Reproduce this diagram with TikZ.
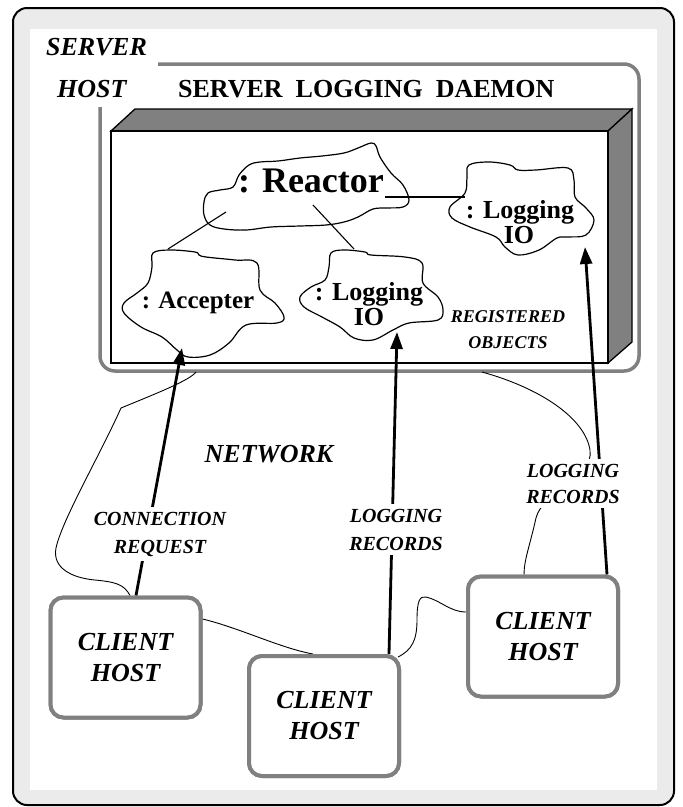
\documentclass[tikz,border=0pt]{standalone}
\usepackage{fontspec}
\setmainfont{Liberation Serif}
\usetikzlibrary{arrows.meta,calc}
\definecolor{framegray}{RGB}{128,128,128}
\definecolor{panelgray}{RGB}{235,235,235}

\begin{document}
\begin{tikzpicture}[x=1pt,y=-1pt,
  cloudline/.style={line width=1.2pt, fill=white},
  netline/.style={line width=0.9pt},
  linkline/.style={line width=1.1pt},
  hostbox/.style={draw=framegray, line width=4pt, rounded corners=13pt,
    fill=white, minimum width=150pt, minimum height=120pt, inner sep=0pt,
    align=center, font=\fontsize{26}{31}\selectfont\bfseries\itshape},
  msg/.style={line width=2.8pt, -{Triangle[length=17pt,width=12pt]}},
  objname/.style={font=\fontsize{26}{25}\selectfont\bfseries, align=center, inner sep=0pt},
  tag/.style={font=\fontsize{20}{28}\selectfont\bfseries\itshape, align=center,
    fill=white, inner sep=5pt},
  bigtag/.style={font=\fontsize{26}{30}\selectfont\bfseries\itshape, inner sep=0pt},
]
\useasboundingbox (0,0) rectangle (683,807);

% outer panel
\draw[line width=2pt, fill=panelgray, rounded corners=14pt] (13,8) rectangle (674,805);
\fill[white] (30,29) rectangle (657,790);

% server host frame, open at the top-left for its label
\draw[framegray, line width=3.5pt, rounded corners=15pt]
  (158,64) -- (639,64) -- (639,371) -- (100,371) -- (100,107);
\node[bigtag, anchor=base west] (srv1) at (46,55) {SERVER};
\node[bigtag, anchor=base west] (srv2) at (57,97) {HOST};
\node[font=\fontsize{26}{30}\selectfont\bfseries, inner sep=0pt, anchor=base west]
  (daemon) at (178,97) {SERVER\ \ LOGGING\ \ DAEMON};

% daemon block drawn as a slab
\draw[line width=1.3pt, fill=framegray] (111,131) -- (135,109) -- (632,109) -- (608,131) -- cycle;
\draw[line width=1.3pt, fill=framegray] (608,131) -- (632,109) -- (632,342) -- (608,363) -- cycle;
\draw[line width=1.3pt, fill=white] (111,131) rectangle (608,363);

% registered objects
\draw[cloudline] plot[smooth cycle, tension=0.6] coordinates {
  (204,202) (208,193) (220,190) (233,187) (239,175) (249,165) (260,162)
  (278,161) (300,158) (322,156) (344,153) (358,148) (371,143) (376,146)
  (380,157) (391,173) (403,185) (409,200) (403,207) (387,208) (373,209)
  (358,217) (344,222) (326,225) (300,226) (271,227) (246,230) (224,229)
  (210,225) (204,215)};
\draw[cloudline] plot[smooth cycle, tension=0.6] coordinates {
  (469,165) (489,162) (510,165) (518,170) (536,170) (568,168) (574,180)
  (575,197) (586,208) (594,220) (586,235) (568,237) (557,238) (539,250)
  (518,255) (505,247) (496,237) (470,227) (452,218) (450,207) (465,193)
  (467,177)};
\draw[cloudline] plot[smooth cycle, tension=0.6] coordinates {
  (153,253) (170,250) (195,252) (199,255) (206,257) (235,260) (257,263)
  (260,290) (275,303) (284,317) (277,323) (246,325) (229,343) (210,355)
  (188,357) (177,350) (162,337) (141,327) (124,313) (124,303) (137,293)
  (148,283) (152,267)};
\draw[cloudline] plot[smooth cycle, tension=0.6] coordinates {
  (331,253) (344,250) (365,252) (371,255) (405,257) (422,263) (423,283)
  (438,297) (443,310) (438,320) (409,323) (393,330) (373,340) (354,338)
  (340,327) (322,317) (304,307) (300,297) (311,287) (325,280) (329,267)};

% links from the reactor
\coordinate (rR) at (385,197);
\coordinate (lioL) at (465,197);
\coordinate (rA) at (226,212);
\coordinate (accT) at (168,249);
\coordinate (rM) at (313,205);
\coordinate (lio2T) at (354,249);
\draw[linkline] (rR) -- (lioL);
\draw[linkline] (rA) -- (accT);
\draw[linkline] (rM) -- (lio2T);

\node[font=\fontsize{36}{36}\selectfont\bfseries, inner sep=0pt, anchor=base]
  (reactor) at (311,192) {: Reactor};
\node[objname, anchor=base] (lio1a) at (520,218) {: Logging};
\node[objname, anchor=base] (lio1b) at (519,243) {IO};
\node[objname, anchor=base, font=\fontsize{25}{25}\selectfont\bfseries]
  (accepter) at (198,308) {: Accepter};
\node[objname, anchor=base] (lio2a) at (369,300) {: Logging};
\node[objname, anchor=base] (lio2b) at (369,325) {IO};
\node[font=\fontsize{18}{18}\selectfont\bfseries\itshape, inner sep=0pt, anchor=base]
  (reg1) at (508,322) {REGISTERED};
\node[font=\fontsize{18}{18}\selectfont\bfseries\itshape, inner sep=0pt, anchor=base]
  (reg2) at (508,348) {OBJECTS};

% network
\node[bigtag, anchor=base] (net) at (269,462) {NETWORK};

% client hosts
\node[hostbox] (c1) at (125.5,657.5) {CLIENT\\HOST};
\node[hostbox] (c2) at (324,716) {CLIENT\\HOST};
\node[hostbox] (c3) at (543,636.5) {CLIENT\\HOST};

% network wiring
\coordinate (sA) at (196,372);
\coordinate (sB) at (482,372);
\draw[netline] (sA) .. controls (190,380) and (160,392) .. (121,408)
  .. controls (100,455) and (62,520) .. (56,548)
  .. controls (52,568) and (72,578) .. (95,580)
  .. controls (115,582) and (124,584) .. ($(c1.north)+(4.5,0)$);
\draw[netline] (sB) .. controls (540,388) and (585,418) .. (590,450)
  .. controls (594,480) and (542,492) .. (536,518)
  .. controls (530,545) and (524,560) .. ($(c3.north)+(-19,0)$);
\draw[netline] ($(c1.east)+(0,-38.5)$) .. controls (240,628) and (280,648) .. ($(c2.north)+(-11,0)$);
\draw[netline] ($(c2.north east)+(-3,3)$) .. controls (412,650) and (417,640) .. (417,620)
  .. controls (417,600) and (420,596) .. (426,597)
  .. controls (440,600) and (450,612) .. ($(c3.west)+(0,-24.5)$);

% requests and records
\coordinate (accIn) at (182,348);
\coordinate (lio2In) at (397,332);
\coordinate (lio1In) at (585,247);
\draw[msg] ($(c1.north)+(10.5,0)$) -- (accIn);
\draw[msg] ($(c2.north)+(65,0)$) -- (lio2In);
\draw[msg] ($(c3.north)+(64,0)$) -- (lio1In);

% two-line tags: the base anchor sits on the last line
\node[tag, anchor=base] (creq) at (160,553) {CONNECTION\\REQUEST};
\node[tag, anchor=base] (lrec2) at (396,550) {LOGGING\\RECORDS};
\node[tag, anchor=base, font=\fontsize{20}{26}\selectfont\bfseries\itshape]
  (lrec1) at (573,503) {LOGGING\\RECORDS};

% redraw client boxes over wire ends
\node[hostbox] at (c1) {CLIENT\\HOST};
\node[hostbox] at (c2) {CLIENT\\HOST};
\node[hostbox] at (c3) {CLIENT\\HOST};
\end{tikzpicture}
\end{document}
